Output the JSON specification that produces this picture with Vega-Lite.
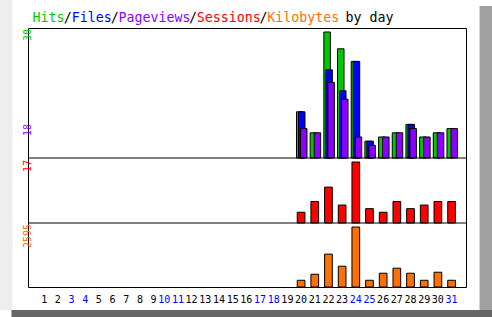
{
  "$schema": "https://vega.github.io/schema/vega-lite/v6.json",
  "width": 438,
  "height": 259,
  "autosize": {"type": "none"},
  "padding": {"left": 28, "top": 28, "right": 26, "bottom": 30},
  "background": "white",
  "config": {
    "view": {"stroke": "black", "strokeWidth": 1},
    "text": {"font": "DejaVu Sans Mono"},
    "axis": {"disable": true}
  },
  "datasets": {
    "daily": [
      {"day": 1, "hits": 0, "files": 0, "pages": 0, "sessions": 0, "kbytes": 0},
      {"day": 2, "hits": 0, "files": 0, "pages": 0, "sessions": 0, "kbytes": 0},
      {"day": 3, "hits": 0, "files": 0, "pages": 0, "sessions": 0, "kbytes": 0},
      {"day": 4, "hits": 0, "files": 0, "pages": 0, "sessions": 0, "kbytes": 0},
      {"day": 5, "hits": 0, "files": 0, "pages": 0, "sessions": 0, "kbytes": 0},
      {"day": 6, "hits": 0, "files": 0, "pages": 0, "sessions": 0, "kbytes": 0},
      {"day": 7, "hits": 0, "files": 0, "pages": 0, "sessions": 0, "kbytes": 0},
      {"day": 8, "hits": 0, "files": 0, "pages": 0, "sessions": 0, "kbytes": 0},
      {"day": 9, "hits": 0, "files": 0, "pages": 0, "sessions": 0, "kbytes": 0},
      {"day": 10, "hits": 0, "files": 0, "pages": 0, "sessions": 0, "kbytes": 0},
      {"day": 11, "hits": 0, "files": 0, "pages": 0, "sessions": 0, "kbytes": 0},
      {"day": 12, "hits": 0, "files": 0, "pages": 0, "sessions": 0, "kbytes": 0},
      {"day": 13, "hits": 0, "files": 0, "pages": 0, "sessions": 0, "kbytes": 0},
      {"day": 14, "hits": 0, "files": 0, "pages": 0, "sessions": 0, "kbytes": 0},
      {"day": 15, "hits": 0, "files": 0, "pages": 0, "sessions": 0, "kbytes": 0},
      {"day": 16, "hits": 0, "files": 0, "pages": 0, "sessions": 0, "kbytes": 0},
      {"day": 17, "hits": 0, "files": 0, "pages": 0, "sessions": 0, "kbytes": 0},
      {"day": 18, "hits": 0, "files": 0, "pages": 0, "sessions": 0, "kbytes": 0},
      {"day": 19, "hits": 0, "files": 0, "pages": 0, "sessions": 0, "kbytes": 0},
      {"day": 20, "hits": 11, "files": 11, "pages": 7, "sessions": 3, "kbytes": 291},
      {"day": 21, "hits": 6, "files": 0, "pages": 6, "sessions": 6, "kbytes": 552},
      {"day": 22, "hits": 30, "files": 21, "pages": 18, "sessions": 10, "kbytes": 1422},
      {"day": 23, "hits": 26, "files": 16, "pages": 14, "sessions": 5, "kbytes": 900},
      {"day": 24, "hits": 23, "files": 23, "pages": 5, "sessions": 17, "kbytes": 2595},
      {"day": 25, "hits": 4, "files": 4, "pages": 3, "sessions": 4, "kbytes": 291},
      {"day": 26, "hits": 5, "files": 0, "pages": 5, "sessions": 3, "kbytes": 596},
      {"day": 27, "hits": 6, "files": 0, "pages": 6, "sessions": 6, "kbytes": 813},
      {"day": 28, "hits": 8, "files": 8, "pages": 7, "sessions": 4, "kbytes": 596},
      {"day": 29, "hits": 5, "files": 0, "pages": 5, "sessions": 5, "kbytes": 291},
      {"day": 30, "hits": 6, "files": 0, "pages": 6, "sessions": 6, "kbytes": 639},
      {"day": 31, "hits": 7, "files": 0, "pages": 7, "sessions": 6, "kbytes": 291}
    ]
  },
  "data": {"name": "daily"},
  "layer": [
    {
      "layer": [
        {
          "data": {"values": [{}]},
          "mark": {"type": "rect", "fill": "#eeeeee"},
          "encoding": {
            "x": {"datum": -3, "type": "quantitative", "axis": null, "scale": {"domain": [0.4036, 31.6893], "nice": false, "zero": false}},
            "x2": {"datum": -1.0964},
            "y": {"datum": 40, "type": "quantitative", "axis": null, "scale": {"domain": [0, 30.952], "range": [130, 0], "nice": false, "zero": false}},
            "y2": {"datum": -36.19}
          }
        },
        {
          "data": {"values": [{}]},
          "mark": {"type": "rect", "fill": "#a0a0a0"},
          "encoding": {
            "x": {"datum": 33.0464, "type": "quantitative"},
            "x2": {"datum": 35},
            "y": {"datum": 36.2, "type": "quantitative", "axis": null, "scale": {"domain": [0, 30.952], "range": [130, 0], "nice": false, "zero": false}},
            "y2": {"datum": -40}
          }
        },
        {
          "data": {"values": [{}]},
          "mark": {"type": "rect", "fill": "#666666"},
          "encoding": {
            "x": {"datum": -1.1679, "type": "quantitative"},
            "x2": {"datum": 35},
            "y": {"datum": -36.19, "type": "quantitative", "axis": null, "scale": {"domain": [0, 30.952], "range": [130, 0], "nice": false, "zero": false}},
            "y2": {"datum": -40}
          }
        },
        {
          "data": {"values": [{}]},
          "mark": {"type": "text", "text": "Hits", "color": "#00c800", "align": "left", "baseline": "alphabetic", "fontSize": 13.3, "font": "DejaVu Sans Mono"},
          "encoding": {
            "x": {"datum": 0.368, "type": "quantitative"},
            "y": {"datum": 32.3, "type": "quantitative", "axis": null, "scale": {"domain": [0, 30.952], "range": [130, 0], "nice": false, "zero": false}}
          }
        },
        {
          "data": {"values": [{}]},
          "mark": {"type": "text", "text": "/", "color": "#000000", "align": "left", "baseline": "alphabetic", "fontSize": 13.3, "font": "DejaVu Sans Mono"},
          "encoding": {
            "x": {"datum": 2.6556, "type": "quantitative"},
            "y": {"datum": 32.3, "type": "quantitative", "axis": null, "scale": {"domain": [0, 30.952], "range": [130, 0], "nice": false, "zero": false}}
          }
        },
        {
          "data": {"values": [{}]},
          "mark": {"type": "text", "text": "Files", "color": "#0000ff", "align": "left", "baseline": "alphabetic", "fontSize": 13.3, "font": "DejaVu Sans Mono"},
          "encoding": {
            "x": {"datum": 3.2275, "type": "quantitative"},
            "y": {"datum": 32.3, "type": "quantitative", "axis": null, "scale": {"domain": [0, 30.952], "range": [130, 0], "nice": false, "zero": false}}
          }
        },
        {
          "data": {"values": [{}]},
          "mark": {"type": "text", "text": "/", "color": "#000000", "align": "left", "baseline": "alphabetic", "fontSize": 13.3, "font": "DejaVu Sans Mono"},
          "encoding": {
            "x": {"datum": 6.087, "type": "quantitative"},
            "y": {"datum": 32.3, "type": "quantitative", "axis": null, "scale": {"domain": [0, 30.952], "range": [130, 0], "nice": false, "zero": false}}
          }
        },
        {
          "data": {"values": [{}]},
          "mark": {"type": "text", "text": "Pageviews", "color": "#8c00ff", "align": "left", "baseline": "alphabetic", "fontSize": 13.3, "font": "DejaVu Sans Mono"},
          "encoding": {
            "x": {"datum": 6.6589, "type": "quantitative"},
            "y": {"datum": 32.3, "type": "quantitative", "axis": null, "scale": {"domain": [0, 30.952], "range": [130, 0], "nice": false, "zero": false}}
          }
        },
        {
          "data": {"values": [{}]},
          "mark": {"type": "text", "text": "/", "color": "#000000", "align": "left", "baseline": "alphabetic", "fontSize": 13.3, "font": "DejaVu Sans Mono"},
          "encoding": {
            "x": {"datum": 11.806, "type": "quantitative"},
            "y": {"datum": 32.3, "type": "quantitative", "axis": null, "scale": {"domain": [0, 30.952], "range": [130, 0], "nice": false, "zero": false}}
          }
        },
        {
          "data": {"values": [{}]},
          "mark": {"type": "text", "text": "Sessions", "color": "#ff0000", "align": "left", "baseline": "alphabetic", "fontSize": 13.3, "font": "DejaVu Sans Mono"},
          "encoding": {
            "x": {"datum": 12.378, "type": "quantitative"},
            "y": {"datum": 32.3, "type": "quantitative", "axis": null, "scale": {"domain": [0, 30.952], "range": [130, 0], "nice": false, "zero": false}}
          }
        },
        {
          "data": {"values": [{}]},
          "mark": {"type": "text", "text": "/", "color": "#000000", "align": "left", "baseline": "alphabetic", "fontSize": 13.3, "font": "DejaVu Sans Mono"},
          "encoding": {
            "x": {"datum": 16.953, "type": "quantitative"},
            "y": {"datum": 32.3, "type": "quantitative", "axis": null, "scale": {"domain": [0, 30.952], "range": [130, 0], "nice": false, "zero": false}}
          }
        },
        {
          "data": {"values": [{}]},
          "mark": {"type": "text", "text": "Kilobytes", "color": "#ff7000", "align": "left", "baseline": "alphabetic", "fontSize": 13.3, "font": "DejaVu Sans Mono"},
          "encoding": {
            "x": {"datum": 17.525, "type": "quantitative"},
            "y": {"datum": 32.3, "type": "quantitative", "axis": null, "scale": {"domain": [0, 30.952], "range": [130, 0], "nice": false, "zero": false}}
          }
        },
        {
          "data": {"values": [{}]},
          "mark": {"type": "text", "text": "by day", "color": "#000000", "align": "left", "baseline": "alphabetic", "fontSize": 13.3, "font": "DejaVu Sans Mono"},
          "encoding": {
            "x": {"datum": 23.244, "type": "quantitative"},
            "y": {"datum": 32.3, "type": "quantitative", "axis": null, "scale": {"domain": [0, 30.952], "range": [130, 0], "nice": false, "zero": false}}
          }
        },
        {
          "transform": [{"filter": "datum.hits > 0"}],
          "mark": {"type": "bar", "fill": "#00c800", "stroke": "black", "strokeWidth": 1, "width": 6.5, "xOffset": -1.35},
          "encoding": {
            "x": {"field": "day", "type": "quantitative", "axis": null},
            "y": {"field": "hits", "type": "quantitative", "axis": null, "scale": {"domain": [0, 30.952], "range": [130, 0], "nice": false, "zero": false}}
          }
        },
        {
          "transform": [{"filter": "datum.files > 0"}],
          "mark": {"type": "bar", "fill": "#0000ff", "stroke": "black", "strokeWidth": 1, "width": 6.5, "xOffset": 0.65},
          "encoding": {
            "x": {"field": "day", "type": "quantitative", "axis": null},
            "y": {"field": "files", "type": "quantitative", "axis": null, "scale": {"domain": [0, 30.952], "range": [130, 0], "nice": false, "zero": false}}
          }
        },
        {
          "transform": [{"filter": "datum.pages > 0"}],
          "mark": {"type": "bar", "fill": "#8c00ff", "stroke": "black", "strokeWidth": 1, "width": 6.5, "xOffset": 2.65},
          "encoding": {
            "x": {"field": "day", "type": "quantitative", "axis": null},
            "y": {"field": "pages", "type": "quantitative", "axis": null, "scale": {"domain": [0, 30.952], "range": [130, 0], "nice": false, "zero": false}}
          }
        },
        {
          "data": {"values": [{}]},
          "mark": {"type": "rule", "color": "black", "strokeWidth": 1},
          "encoding": {
            "y": {"datum": 0, "type": "quantitative", "axis": null, "scale": {"domain": [0, 30.952], "range": [130, 0], "nice": false, "zero": false}}
          }
        },
        {
          "data": {"values": [{}]},
          "mark": {"type": "text", "text": "30", "color": "#00c800", "angle": 270, "align": "right", "baseline": "alphabetic", "fontSize": 10, "font": "DejaVu Sans Mono"},
          "encoding": {
            "x": {"datum": 0.2607, "type": "quantitative"},
            "y": {"datum": 30.7, "type": "quantitative", "axis": null, "scale": {"domain": [0, 30.952], "range": [130, 0], "nice": false, "zero": false}}
          }
        },
        {
          "data": {"values": [{}]},
          "mark": {"type": "text", "text": "18", "color": "#8c00ff", "angle": 270, "align": "right", "baseline": "alphabetic", "fontSize": 10, "font": "DejaVu Sans Mono"},
          "encoding": {
            "x": {"datum": 0.2607, "type": "quantitative"},
            "y": {"datum": 8.09, "type": "quantitative", "axis": null, "scale": {"domain": [0, 30.952], "range": [130, 0], "nice": false, "zero": false}}
          }
        }
      ]
    },
    {
      "layer": [
        {
          "transform": [{"filter": "datum.sessions > 0"}],
          "mark": {"type": "bar", "fill": "#ff0000", "stroke": "black", "strokeWidth": 1, "width": 7.7},
          "encoding": {
            "x": {"field": "day", "type": "quantitative", "axis": null},
            "y": {"field": "sessions", "type": "quantitative", "axis": null, "scale": {"domain": [0, 18.115], "range": [195, 130], "nice": false, "zero": false}}
          }
        },
        {
          "data": {"values": [{}]},
          "mark": {"type": "rule", "color": "black", "strokeWidth": 1},
          "encoding": {
            "y": {"datum": 0, "type": "quantitative", "axis": null, "scale": {"domain": [0, 18.115], "range": [195, 130], "nice": false, "zero": false}}
          }
        },
        {
          "data": {"values": [{}]},
          "mark": {"type": "text", "text": "17", "color": "#ff0000", "angle": 270, "align": "right", "baseline": "alphabetic", "fontSize": 10, "font": "DejaVu Sans Mono"},
          "encoding": {
            "x": {"datum": 0.2607, "type": "quantitative"},
            "y": {"datum": 17.56, "type": "quantitative", "axis": null, "scale": {"domain": [0, 18.115], "range": [195, 130], "nice": false, "zero": false}}
          }
        }
      ]
    },
    {
      "layer": [
        {
          "transform": [{"filter": "datum.kbytes > 0"}],
          "mark": {"type": "bar", "fill": "#ff7000", "stroke": "black", "strokeWidth": 1, "width": 7.7},
          "encoding": {
            "x": {"field": "day", "type": "quantitative", "axis": null},
            "y": {"field": "kbytes", "type": "quantitative", "axis": null, "scale": {"domain": [0, 2768], "range": [259, 195], "nice": false, "zero": false}}
          }
        },
        {
          "data": {"values": [{}]},
          "mark": {"type": "text", "text": "2595", "color": "#ff7000", "angle": 270, "align": "right", "baseline": "alphabetic", "fontSize": 10, "font": "DejaVu Sans Mono"},
          "encoding": {
            "x": {"datum": 0.2607, "type": "quantitative"},
            "y": {"datum": 2724.8, "type": "quantitative", "axis": null, "scale": {"domain": [0, 2768], "range": [259, 195], "nice": false, "zero": false}}
          }
        },
        {
          "mark": {"type": "text", "align": "right", "baseline": "alphabetic", "fontSize": 10, "font": "DejaVu Sans Mono", "dx": 6},
          "encoding": {
            "x": {"field": "day", "type": "quantitative", "axis": null},
            "y": {"datum": -692, "type": "quantitative", "axis": null, "scale": {"domain": [0, 2768], "range": [259, 195], "nice": false, "zero": false}},
            "text": {"field": "day", "type": "quantitative", "format": "d"},
            "color": {"condition": {"test": "indexof([3,4,10,11,17,18,24,25,31], datum.day) >= 0", "value": "#0000ff"}, "value": "#000000"}
          }
        }
      ]
    }
  ],
  "resolve": {"scale": {"y": "independent"}}
}
